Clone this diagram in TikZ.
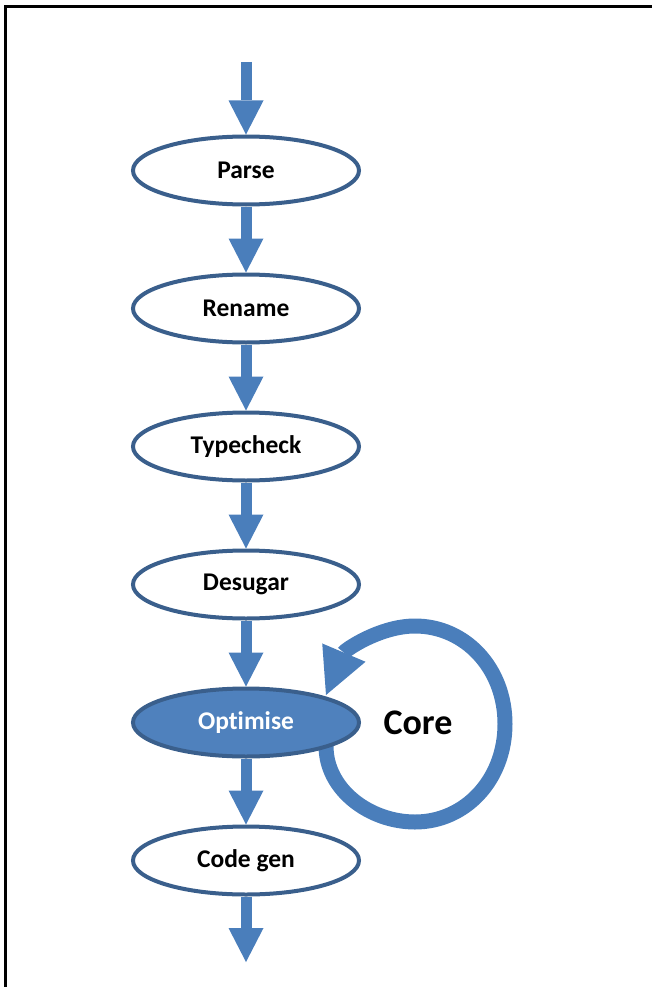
\documentclass[tikz,border=0pt]{standalone}
\usepackage{fontspec}
\setmainfont{Carlito}[Ligatures={NoCommon}]
\usetikzlibrary{arrows.meta,backgrounds,shapes.geometric}
\definecolor{arrowblue}{HTML}{4A7EBB}
\definecolor{edgeblue}{HTML}{3A5F8C}
\definecolor{fillblue}{HTML}{4F81BD}
\begin{document}
\begin{tikzpicture}[x=1pt,y=-1pt,
  stage/.style={ellipse,draw=edgeblue,line width=4pt,fill=white,
    minimum width=226pt,minimum height=68pt,inner sep=0pt,
    font=\fontsize{25.5}{30}\selectfont\bfseries},
  hot/.style={stage,fill=fillblue,text=white},
  blockarrow/.style={draw=arrowblue,line width=11pt,
    -{Triangle[width=35pt,length=34pt,line width=0pt,fill=arrowblue]}},
  looparrow/.style={draw=arrowblue,line width=15pt,
    -{Triangle[width=47pt,length=46pt,line width=0pt,fill=arrowblue]}},
  frameline/.style={line width=3pt,black}
]
\useasboundingbox (0,0) rectangle (652,987);
\draw[frameline] (5.5,987) -- (5.5,7) -- (652,7);

\node[stage] (parse) at (246,170.5) {Parse};
\node[stage] (rename) at (246,308.5) {Rename};
\node[stage] (typecheck) at (246,446.5) {Typecheck};
\node[stage] (desugar) at (246,584.5) {Desugar};
\node[hot] (optimise) at (246,722.5) {Optimise};
\node[stage] (codegen) at (246,860.5) {Code gen};
\node[font=\fontsize{36}{40}\selectfont\bfseries] (core) at (418,723) {Core};

\coordinate (in) at (246,62);
\coordinate (out) at (246,962);
\coordinate (loopstart) at (326,746);
\coordinate (loopend) at (326,695);

\draw[blockarrow] (in) -- (parse.north);
\draw[blockarrow] (parse.south) -- (rename.north);
\draw[blockarrow] (rename.south) -- (typecheck.north);
\draw[blockarrow] (typecheck.south) -- (desugar.north);
\draw[blockarrow] (desugar.south) -- (optimise.north);
\draw[blockarrow] (optimise.south) -- (codegen.north);
\draw[blockarrow] (codegen.south) -- (out);

\begin{scope}[on background layer]
\draw[looparrow] (loopstart) .. controls (326,790) and (370,822) .. (415,822)
  .. controls (465,822) and (505,780) .. (505,724)
  .. controls (505,668) and (465,626) .. (415,626)
  .. controls (380,626) and (345,650) .. (loopend);
\end{scope}
\end{tikzpicture}
\end{document}
